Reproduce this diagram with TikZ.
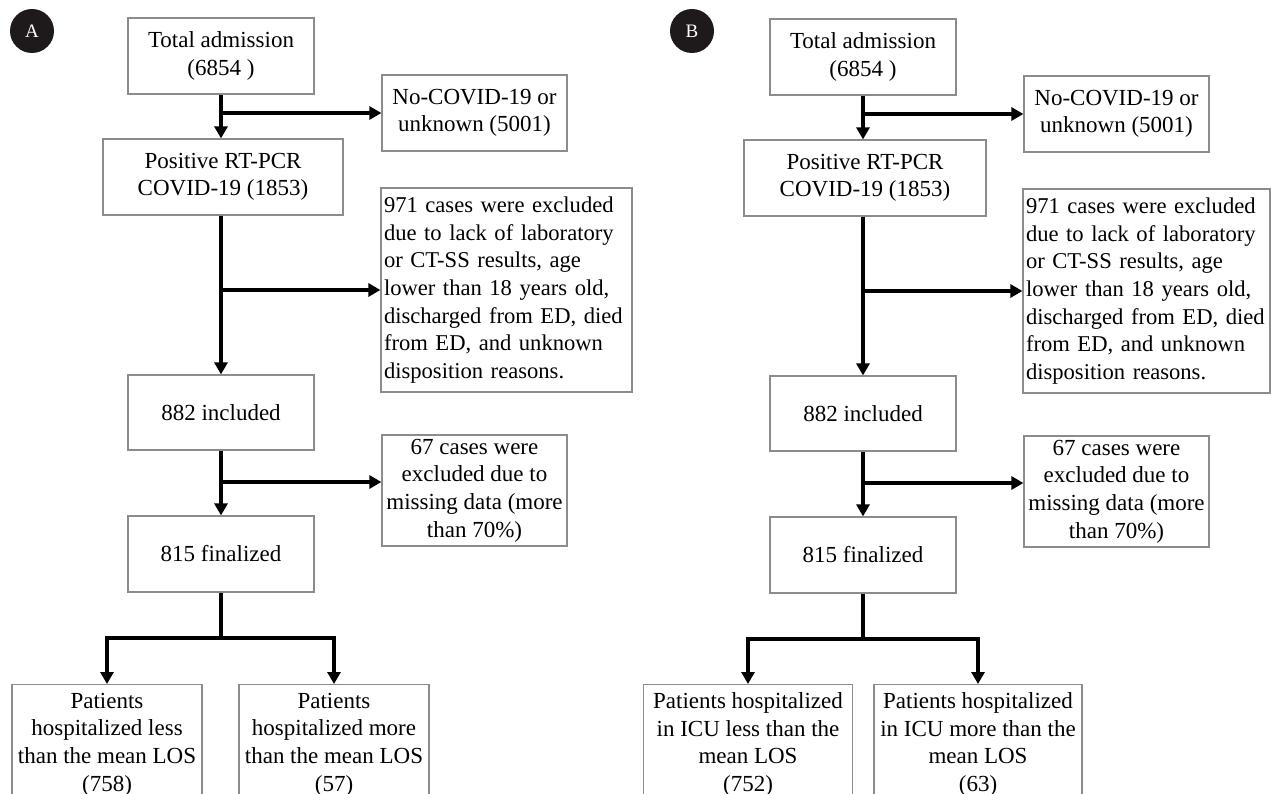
\documentclass[tikz,border=0pt]{standalone}
\usepackage{fontspec}
\setmainfont{Liberation Serif}
\usetikzlibrary{arrows.meta}
\definecolor{boxgray}{HTML}{8C8C8C}
\definecolor{badge}{HTML}{1E1A1B}
\begin{document}
\begin{tikzpicture}[x=1pt,y=-1pt,
  every node/.style={font=\fontsize{23}{27.6}\selectfont},
  fbox/.style={draw=boxgray, line width=1.2pt, align=center, inner sep=0pt},
  lbox/.style={draw=boxgray, line width=1.2pt, align=left, inner xsep=3pt, inner ysep=0pt,
    font=\fontsize{22.6}{27.6}\selectfont},
  arr/.style={line width=4.2pt, -{Triangle[length=12pt,width=13pt]}},
  plain/.style={line width=4.2pt},
  badgenode/.style={circle, fill=badge, text=white, minimum size=44pt, inner sep=0pt, font=\fontsize{19}{22}\selectfont}
]
\useasboundingbox (0,0) rectangle (1271,794);
\clip (0,0) rectangle (1271,794);

% ---------------- Panel A ----------------
\node[badgenode] (bA) at (32,31) {A};
\node[fbox, minimum width=186pt, minimum height=76pt] (tA) at (221,56) {Total admission\\(6854 )};
\node[fbox, minimum width=185pt, minimum height=76pt] (ncA) at (474.5,113) {No-COVID-19 or\\unknown (5001)};
\node[fbox, minimum width=240pt, minimum height=76pt] (pA) at (223,177) {Positive RT-PCR\\COVID-19 (1853)};
\node[lbox, text width=245pt, minimum height=204pt] (e1A) at (506.5,290) {971 cases were excluded\\due to lack of laboratory\\or CT-SS results, age\\lower than 18 years old,\\discharged from ED, died\\from ED, and unknown\\disposition reasons.};
\node[fbox, minimum width=186pt, minimum height=75pt] (iA) at (221,412.5) {882 included};
\node[fbox, minimum width=185pt, minimum height=111pt] (e2A) at (474.5,490.5) {67 cases were\\excluded due to\\missing data (more\\than 70\%)};
\node[fbox, minimum width=186pt, minimum height=76pt] (fA) at (221,554) {815 finalized};
\node[fbox, anchor=north, minimum width=190pt, minimum height=120pt] (lA) at (107,684) {Patients\\hospitalized less\\than the mean LOS\\(758)};
\node[fbox, anchor=north, minimum width=190pt, minimum height=120pt] (rA) at (334,684) {Patients\\hospitalized more\\than the mean LOS\\(57)};

\coordinate (jA1) at (221,113);
\coordinate (jA2) at (221,290);
\coordinate (jA3) at (221,482);
\coordinate (jA4) at (221,638);
\draw[arr] (tA.south) -- (tA.south |- pA.north);
\draw[arr] (jA1) -- (ncA.west);
\draw[arr] (tA.south |- pA.south) -- (iA.north);
\draw[arr] (jA2) -- (e1A.west);
\draw[arr] (iA.south) -- (fA.north);
\draw[arr] (jA3) -- (e2A.west |- jA3);
\draw[plain] (fA.south) -- (jA4);
\draw[arr] (jA4) -| (lA.north);
\draw[arr] (jA4) -| (rA.north);

% ---------------- Panel B ----------------
\node[badgenode] (bB) at (692,31) {B};
\node[fbox, minimum width=186pt, minimum height=76pt] (tB) at (863,57) {Total admission\\(6854 )};
\node[fbox, minimum width=185pt, minimum height=76pt] (ncB) at (1116.5,114) {No-COVID-19 or\\unknown (5001)};
\node[fbox, minimum width=242pt, minimum height=76pt] (pB) at (865,178) {Positive RT-PCR\\COVID-19 (1853)};
\node[lbox, text width=241pt, minimum height=204pt] (e1B) at (1146.5,291) {971 cases were excluded\\due to lack of laboratory\\or CT-SS results, age\\lower than 18 years old,\\discharged from ED, died\\from ED, and unknown\\disposition reasons.};
\node[fbox, minimum width=186pt, minimum height=75pt] (iB) at (863,413.5) {882 included};
\node[fbox, minimum width=185pt, minimum height=111pt] (e2B) at (1116.5,491.5) {67 cases were\\excluded due to\\missing data (more\\than 70\%)};
\node[fbox, minimum width=186pt, minimum height=76pt] (fB) at (863,555) {815 finalized};
\node[fbox, anchor=north, minimum width=209pt, minimum height=120pt] (lB) at (748,684) {Patients hospitalized\\in ICU less than the\\mean LOS\\(752)};
\node[fbox, anchor=north, minimum width=208pt, minimum height=120pt] (rB) at (978,684) {Patients hospitalized\\in ICU more than the\\mean LOS\\(63)};

\coordinate (jB1) at (863,114);
\coordinate (jB2) at (863,291);
\coordinate (jB3) at (863,483);
\coordinate (jB4) at (863,639);
\draw[arr] (tB.south) -- (tB.south |- pB.north);
\draw[arr] (jB1) -- (ncB.west);
\draw[arr] (tB.south |- pB.south) -- (iB.north);
\draw[arr] (jB2) -- (e1B.west);
\draw[arr] (iB.south) -- (fB.north);
\draw[arr] (jB3) -- (e2B.west |- jB3);
\draw[plain] (fB.south) -- (jB4);
\draw[arr] (jB4) -| (lB.north);
\draw[arr] (jB4) -| (rB.north);
\end{tikzpicture}
\end{document}
